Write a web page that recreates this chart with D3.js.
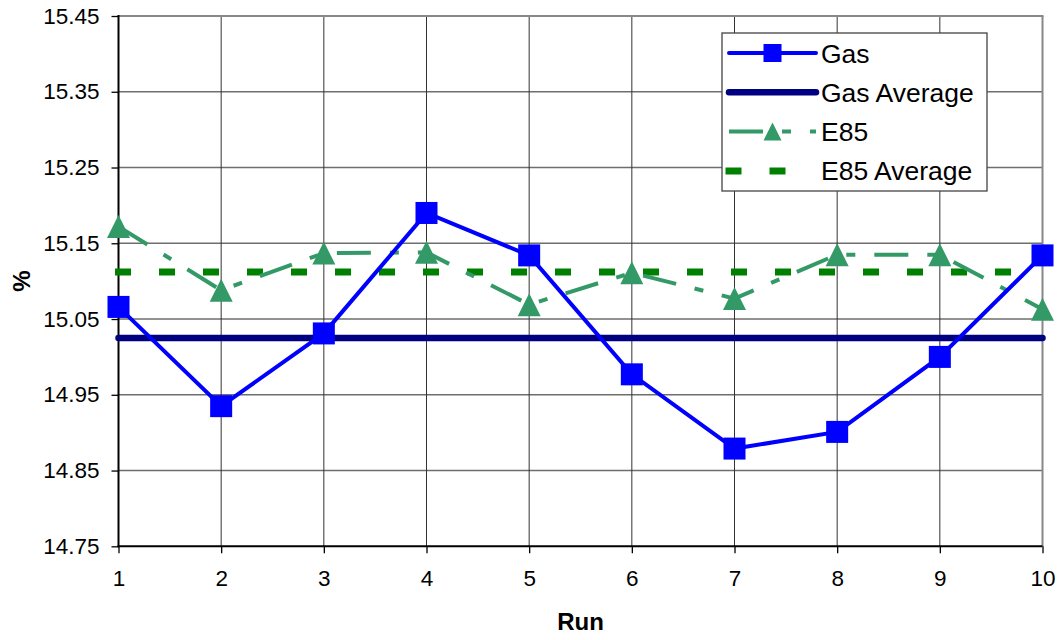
<!DOCTYPE html>
<html>
<head>
<meta charset="utf-8">
<script src="https://cdn.jsdelivr.net/npm/d3@7/dist/d3.min.js"></script>
<style>
  html, body { margin: 0; padding: 0; background: #fff; }
  svg { display: block; font-family: "Liberation Sans", Arial, sans-serif; }
</style>
</head>
<body>
<svg id="chart" width="1063" height="640"></svg>
<script>
// Air/fuel ratio per run, gasoline vs E85
const runs = [1, 2, 3, 4, 5, 6, 7, 8, 9, 10];
const gas = [15.066, 14.935, 15.031, 15.190, 15.134, 14.977, 14.879, 14.901, 15.000, 15.134];
const gasAverage = [15.025, 15.025, 15.025, 15.025, 15.025, 15.025, 15.025, 15.025, 15.025, 15.025];
const e85 = [15.172, 15.088, 15.137, 15.138, 15.069, 15.111, 15.077, 15.135, 15.135, 15.063];
const e85Average = [15.112, 15.112, 15.112, 15.112, 15.112, 15.112, 15.112, 15.112, 15.112, 15.112];
const yTicks = [14.75, 14.85, 14.95, 15.05, 15.15, 15.25, 15.35, 15.45];
const seriesNames = ["Gas", "Gas Average", "E85", "E85 Average"];

const svg = d3.select("#chart");
const plotLeft = 118.5, plotRight = 1042.5, plotTop = 16, plotBottom = 546.3;

const x = d3.scaleLinear().domain([1, 10]).range([plotLeft, plotRight]);
const y = d3.scaleLinear().domain([14.75, 15.45]).range([plotBottom, plotTop]);

// Gridlines
const grid = svg.append("g");
grid.selectAll("line.h").data(yTicks.slice(1, -1)).join("line")
  .attr("x1", plotLeft).attr("x2", plotRight)
  .attr("y1", d => y(d)).attr("y2", d => y(d))
  .attr("stroke", "#6e6e6e").attr("stroke-width", 1.4);
grid.selectAll("line.v").data(runs.slice(1, -1)).join("line")
  .attr("x1", d => x(d)).attr("x2", d => x(d))
  .attr("y1", plotTop).attr("y2", plotBottom)
  .attr("stroke", "#333").attr("stroke-width", 1);
// plot frame: top and right in grey
grid.append("line").attr("x1", plotLeft).attr("x2", plotRight + 1).attr("y1", plotTop).attr("y2", plotTop)
  .attr("stroke", "#888").attr("stroke-width", 2);
grid.append("line").attr("x1", plotRight).attr("x2", plotRight).attr("y1", plotTop).attr("y2", plotBottom)
  .attr("stroke", "#888").attr("stroke-width", 2);

// Axes
const yAxis = d3.axisLeft(y).tickValues(yTicks).tickFormat(d3.format(".2f")).tickSize(7).tickPadding(12);
const xAxis = d3.axisBottom(x).tickValues(runs).tickFormat(d3.format("d")).tickSize(7).tickPadding(17);

const gy = svg.append("g").attr("transform", `translate(${plotLeft},0)`).call(yAxis);
const gx = svg.append("g").attr("transform", `translate(0,${plotBottom})`).call(xAxis);
[gy, gx].forEach(g => {
  g.select(".domain").remove();
  g.selectAll(".tick line").attr("stroke", "#000").attr("stroke-width", 1.3);
  g.selectAll(".tick text").attr("fill", "#000").attr("font-size", 22.5)
    .attr("font-family", "Liberation Sans, Arial, sans-serif");
});
svg.append("line").attr("x1", plotLeft).attr("x2", plotLeft).attr("y1", plotTop - 1).attr("y2", plotBottom + 1)
  .attr("stroke", "#000").attr("stroke-width", 2);
svg.append("line").attr("x1", plotLeft - 1).attr("x2", plotRight).attr("y1", plotBottom).attr("y2", plotBottom)
  .attr("stroke", "#000").attr("stroke-width", 2);

// Axis titles
svg.append("text").attr("x", 580.5).attr("y", 630).attr("text-anchor", "middle")
  .attr("font-size", 24).attr("font-weight", "bold").text("Run");
svg.append("text").attr("transform", "translate(30,281) rotate(-90)").attr("text-anchor", "middle")
  .attr("font-size", 24).attr("font-weight", "bold").text("%");

// Series styles
const styles = {
  "Gas": { color: "#0000ff", width: 4, dash: null, cap: "butt", marker: "square" },
  "Gas Average": { color: "#000080", width: 6.5, dash: null, cap: "round", marker: null },
  "E85": { color: "#339966", width: 4, dash: "34,19,9,19", cap: "butt", marker: "triangle" },
  "E85 Average": { color: "#008000", width: 7, dash: "9,35", cap: "square", marker: null }
};
const values = { "Gas": gas, "Gas Average": gasAverage, "E85": e85, "E85 Average": e85Average };

const line = d3.line().x((d, i) => x(runs[i])).y(d => y(d));

function drawMarker(g, type, cx, cy, size, color) {
  if (type === "square") {
    g.append("rect").attr("x", cx - size / 2).attr("y", cy - size / 2)
      .attr("width", size).attr("height", size).attr("fill", color);
  } else if (type === "triangle") {
    const h = size;
    g.append("path")
      .attr("d", `M${cx},${cy - h / 2}L${cx + size / 2},${cy + h / 2}L${cx - size / 2},${cy + h / 2}Z`)
      .attr("fill", color);
  }
}

const plot = svg.append("g");
["Gas Average", "E85 Average", "E85", "Gas"].forEach(name => {
  const s = styles[name];
  plot.append("path").datum(values[name]).attr("d", line)
    .attr("fill", "none").attr("stroke", s.color).attr("stroke-width", s.width)
    .attr("stroke-linecap", s.cap).attr("stroke-linejoin", "miter")
    .attr("stroke-dasharray", s.dash);
});
["E85", "Gas"].forEach(name => {
  const s = styles[name];
  const size = s.marker === "square" ? 22 : 23;
  values[name].forEach((v, i) => drawMarker(plot, s.marker, x(runs[i]), y(v), size, s.color));
});

// Legend
const lg = svg.append("g");
lg.append("rect").attr("x", 722).attr("y", 33).attr("width", 265).attr("height", 158)
  .attr("fill", "#fff").attr("stroke", "#444").attr("stroke-width", 1.3);
seriesNames.forEach((name, i) => {
  const s = styles[name];
  const cy = 53 + i * 39.3;
  lg.append("line").attr("x1", 729).attr("x2", 816).attr("y1", cy).attr("y2", cy)
    .attr("stroke", s.color).attr("stroke-width", s.width)
    .attr("stroke-linecap", s.cap === "butt" && !s.dash ? "round" : s.cap)
    .attr("stroke-dasharray", s.dash);
  if (s.marker) drawMarker(lg, s.marker, 772.5, cy, 18, s.color);
  lg.append("text").attr("x", 821).attr("y", cy + 9.5).attr("font-size", 26.5)
    .attr("fill", "#000").text(name);
});
</script>
</body>
</html>
